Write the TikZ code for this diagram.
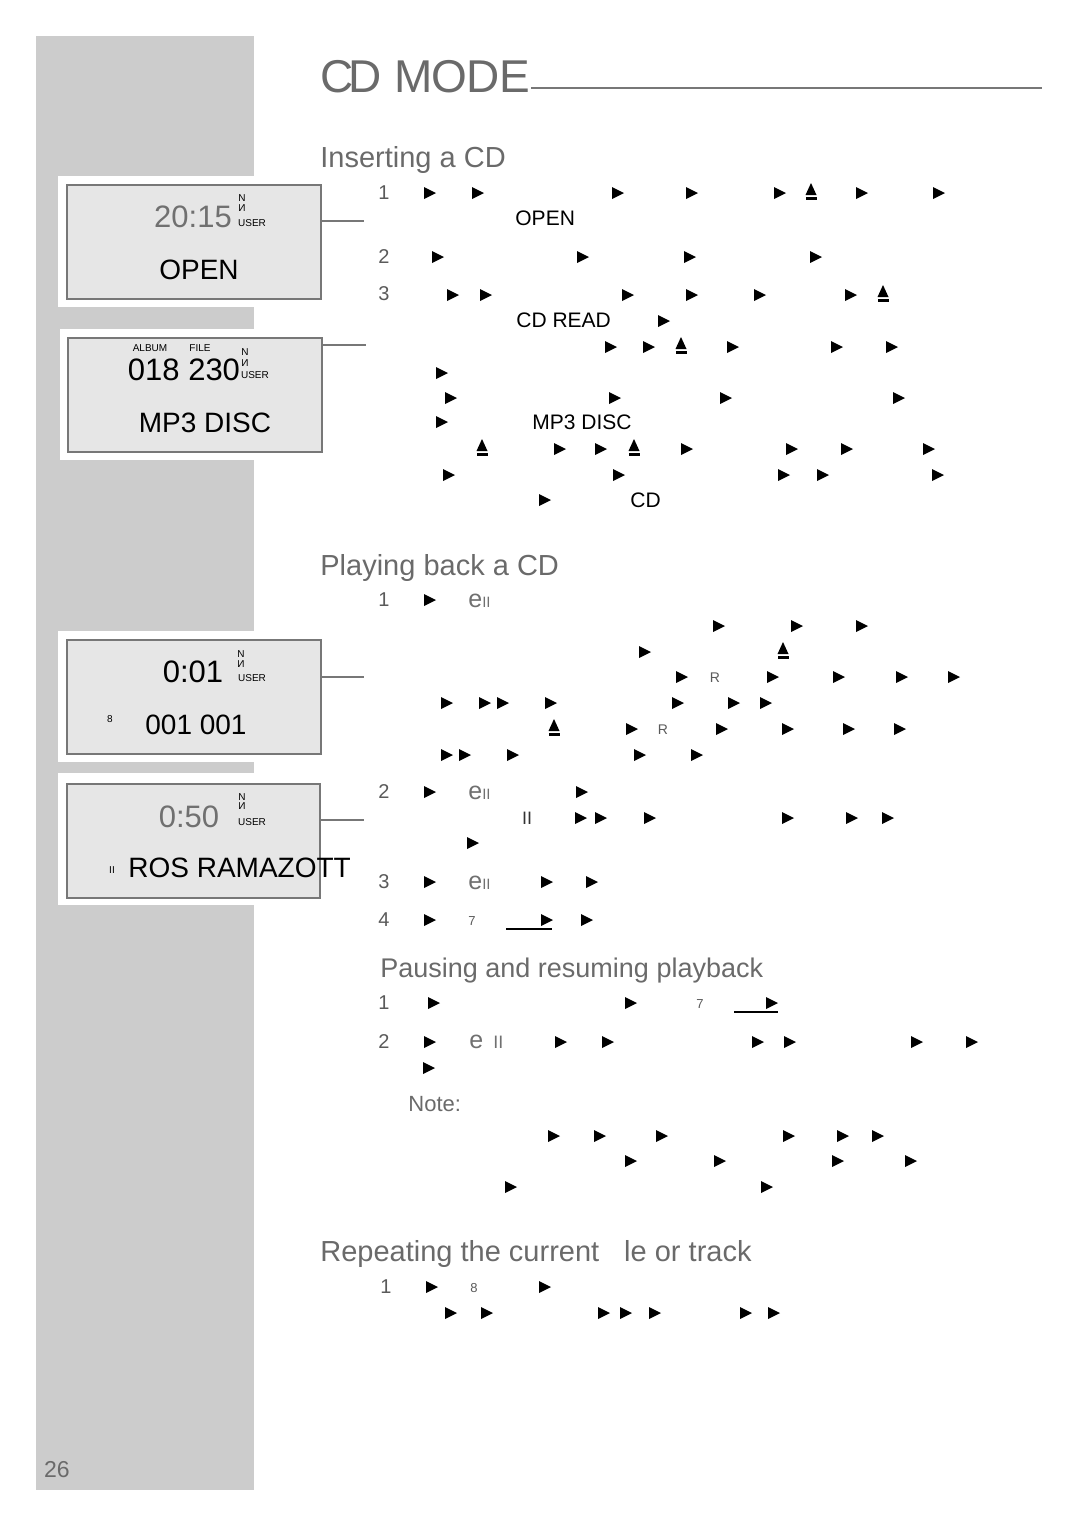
\documentclass[tikz,border=0pt]{standalone}
\usepackage{fontspec}
\setmainfont{Liberation Sans}
\usetikzlibrary{positioning}

\definecolor{sidegray}{HTML}{CCCCCC}
\definecolor{lcdgray}{HTML}{E6E6E6}
\definecolor{rulegray}{HTML}{777777}
\definecolor{headgray}{HTML}{6A6A6A}
\definecolor{textgray}{HTML}{5A5A5A}
\definecolor{timegray}{HTML}{707070}

\newcommand{\fs}[1]{\fontsize{#1}{#1}\selectfont}
\newcommand{\epause}{{\fs{12.5}e}{\fs{7.5}II}}

\tikzset{
  lcd/.style={draw=rulegray,line width=1pt,fill=lcdgray,rectangle,
    anchor=north west,inner sep=0pt},
  lead/.style={draw=rulegray,line width=1pt},
  heading/.style={anchor=base west,inner sep=0pt,text=headgray,font=\fs{14.5}},
  num/.style={inner sep=0pt,text=textgray,font=\fs{10}},
  msg/.style={inner sep=0pt,anchor=west,font=\fs{10.5}},
  big/.style={inner sep=0pt,font=\fs{14}},
  clock/.style={inner sep=0pt,font=\fs{15.5}},
  ind/.style={inner sep=0pt,font=\fs{5}},
  tiny/.style={inner sep=0pt,text=textgray,font=\fs{6.5}},
  play/.pic={\fill (-6,-6) -- (6,0) -- (-6,6) -- cycle;},
  eject/.pic={\fill (-5.5,2) -- (0,-10) -- (5.5,2) -- cycle;
    \fill (-5.5,4) rectangle (5.5,6.5);}
}

\begin{document}
\begin{tikzpicture}[x=0.5pt,y=-0.5pt]
  \useasboundingbox (0,0) rectangle (1080,1527);

  % side bar and panels
  \fill[sidegray] (36,36) rectangle (254,1490);
  \fill[white] (58,176) rectangle (254,307);
  \fill[white] (60,329) rectangle (254,460);
  \fill[white] (58,631) rectangle (254,762);
  \fill[white] (58,773) rectangle (254,905);
  \node[num,text=headgray,font=\fs{11.5}] (page) at (57,1470) {26};

  % title
  \node[heading,font=\fs{23}] (title) at (320,92) {C\kern-2.5pt D M\kern-0.5pt O\kern-0.5pt DE};
  \draw[rulegray,line width=0.75pt] (title.base east |- 0,88) -- (1042,88);

  % displays
  \node[lcd,minimum width=127pt,minimum height=57pt] (lcdA) at (66,184) {};
  \node[lcd,minimum width=127pt,minimum height=57pt] (lcdB) at (67,337) {};
  \node[lcd,minimum width=127pt,minimum height=57pt] (lcdC) at (66,639) {};
  \node[lcd,minimum width=126.5pt,minimum height=57pt] (lcdD) at (66,783) {};

  \node[clock,text=timegray] (timeA) at (193,217) {20:15};
  \node[ind] (nA) at (242,198) {N};
  \node[ind] (iA) at (242,208) {И};
  \node[ind] (uA) at (252,223) {USER};
  \node[big] (openA) at (199,270) {OPEN};

  \node[ind] (album) at (150,348) {ALBUM};
  \node[ind] (file) at (200,348) {FILE};
  \node[ind] (nB) at (245,352) {N};
  \node[ind] (iB) at (245,363) {И};
  \node[ind] (uB) at (255,375) {USER};
  \node[clock] (countB) at (184,370) {018 230};
  \node[big] (discB) at (205,423) {MP3 DISC};

  \node[clock] (timeC) at (193,672) {0:01};
  \node[ind] (nC) at (241,654) {N};
  \node[ind] (iC) at (241,664) {И};
  \node[ind] (uC) at (252,678) {USER};
  \node[ind] (repC) at (110,719) {8};
  \node[big] (trackC) at (196,725) {001 001};

  \node[clock,text=timegray] (timeD) at (189,817) {0:50};
  \node[ind] (nD) at (242,797) {N};
  \node[ind] (iD) at (242,806) {И};
  \node[ind] (uD) at (252,822) {USER};
  \node[ind] (pauseD) at (112,870) {II};
  \node[big,anchor=west] (nameD) at (128,868) {ROS RAMAZOTT};

  % leaders
  \coordinate (leadA) at (364,221);
  \coordinate (leadB) at (366,345);
  \coordinate (leadC) at (364,677);
  \coordinate (leadD) at (364,820);
  \draw[lead] (leadA -| lcdA.east) -- (leadA);
  \draw[lead] (leadB -| lcdB.east) -- (leadB);
  \draw[lead] (leadC -| lcdC.east) -- (leadC);
  \draw[lead] (leadD -| lcdD.east) -- (leadD);

  % Inserting a CD
  \node[heading] (insert) at (320,167) {Inserting a CD};
  \node[num] (s1) at (384,193) {1};
  \node[num] (s2) at (384,257) {2};
  \node[num] (s3) at (384,294) {3};
  \node[msg] (mOpen) at (515,218) {OPEN};
  \node[msg] (mRead) at (516,320) {CD READ};
  \node[msg] (mDisc) at (532,422) {MP3 DISC};
  \node[msg] (mCd) at (630,500) {CD};
  \foreach \x in {430,478,618,692,780,862,939} \pic at (\x,193) {play};
  \pic at (811,193) {eject};
  \foreach \x in {438,583,690,816} \pic at (\x,257) {play};
  \foreach \x in {453,486,628,692,760,851} \pic at (\x,295) {play};
  \pic at (883,295) {eject};
  \pic at (664,321) {play};
  \foreach \x in {611,649,733,837,892} \pic at (\x,347) {play};
  \pic at (681,347) {eject};
  \pic at (442,373) {play};
  \foreach \x in {451,615,726,899} \pic at (\x,398) {play};
  \pic at (442,422) {play};
  \foreach \x in {560,601,687,792,847,929} \pic at (\x,449) {play};
  \foreach \x in {482,634} \pic at (\x,449) {eject};
  \foreach \x in {449,619,784,823,938} \pic at (\x,475) {play};
  \pic at (545,500) {play};

  % Playing back a CD
  \node[heading] (playback) at (320,575) {Playing back a CD};
  \node[num] (p1) at (384,600) {1};
  \node[num] (p2) at (384,792) {2};
  \node[num] (p3) at (384,882) {3};
  \node[num] (p4) at (384,920) {4};
  \node[inner sep=0pt,anchor=west,text=timegray] (k1) at (468,601) {\epause};
  \node[inner sep=0pt,anchor=west,text=timegray] (k2) at (468,793) {\epause};
  \node[inner sep=0pt,anchor=west,text=timegray] (k3) at (468,883) {\epause};
  \node[inner sep=0pt,font=\fs{9},text=black!80] (hold) at (527,818) {II};
  \node[tiny,font=\fs{7}] (r1) at (715,678) {R};
  \node[tiny,font=\fs{7}] (r2) at (663,730) {R};
  \node[tiny] (stop1) at (472,921) {7};
  \foreach \x in {430} \pic at (\x,600) {play};
  \foreach \x in {719,797,862} \pic at (\x,626) {play};
  \pic at (645,652) {play};
  \pic at (783,652) {eject};
  \foreach \x in {682,773,839,902,954} \pic at (\x,677) {play};
  \foreach \x in {447,485,503,551,678,734,766} \pic at (\x,703) {play};
  \foreach \x in {632,722,788,849,900} \pic at (\x,729) {play};
  \pic at (554,729) {eject};
  \foreach \x in {447,465,513,640,697} \pic at (\x,755) {play};
  \foreach \x in {430,582} \pic at (\x,792) {play};
  \foreach \x in {581,601,650,788,852,888} \pic at (\x,818) {play};
  \pic at (473,843) {play};
  \foreach \x in {430,547,592} \pic at (\x,882) {play};
  \foreach \x in {430,547,587} \pic at (\x,920) {play};
  \draw[line width=1pt] (506,929) -- (552,929);

  % Pausing and resuming playback
  \node[heading,font=\fs{13.5}] (pausing) at (380,977) {Pausing and resuming playback};
  \node[num] (q1) at (384,1003) {1};
  \node[num] (q2) at (384,1042) {2};
  \node[tiny] (stop2) at (700,1004) {7};
  \node[inner sep=0pt,anchor=west,text=timegray] (k4) at (469,1042)
    {{\fs{12.5}e}\hspace{5pt}{\fs{9}II}};
  \node[inner sep=0pt,anchor=west,text=headgray,font=\fs{11}] (note) at (408,1104) {Note:};
  \foreach \x in {434,631,772} \pic at (\x,1003) {play};
  \draw[line width=1pt] (734,1012) -- (778,1012);
  \foreach \x in {430,561,608,758,790,917,972} \pic at (\x,1042) {play};
  \pic at (429,1068) {play};
  \foreach \x in {554,600,662,789,843,878} \pic at (\x,1136) {play};
  \foreach \x in {631,720,838,911} \pic at (\x,1161) {play};
  \foreach \x in {511,767} \pic at (\x,1187) {play};

  % Repeating the current file or track
  \node[heading] (repeat) at (320,1261) {Repeating the current\hspace{12.5pt}le or track};
  \node[num] (t1) at (386,1287) {1};
  \node[tiny] (rep) at (474,1288) {8};
  \foreach \x in {432,545} \pic at (\x,1287) {play};
  \foreach \x in {451,487,604,626,655,746,774} \pic at (\x,1313) {play};
\end{tikzpicture}
\end{document}
